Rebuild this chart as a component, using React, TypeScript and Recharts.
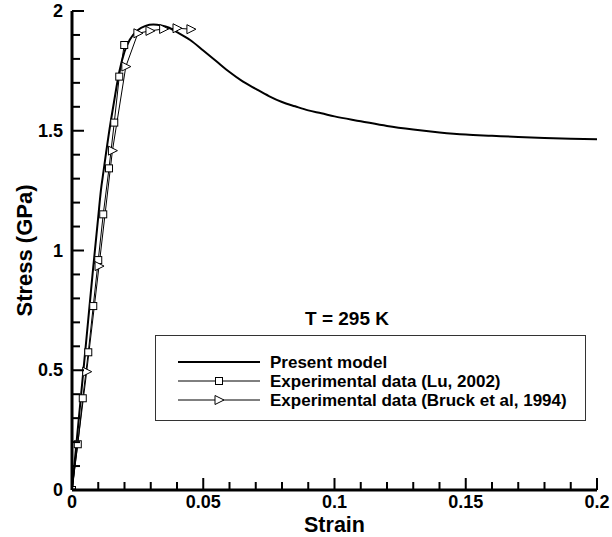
import React from "react";
import { LineChart, Line, XAxis, YAxis } from "recharts";

// present model curve
const modelStrain = [0, 0.002, 0.004, 0.006, 0.008, 0.01, 0.011, 0.012, 0.013, 0.014, 0.016, 0.018, 0.02, 0.022, 0.025, 0.028, 0.031, 0.034, 0.037, 0.04, 0.045, 0.05, 0.055, 0.06, 0.065, 0.07, 0.075, 0.08, 0.085, 0.09, 0.095, 0.1, 0.11, 0.12, 0.13, 0.14, 0.15, 0.16, 0.17, 0.18, 0.19, 0.2];
const modelStress = [0, 0.23, 0.46, 0.69, 0.92, 1.14, 1.25, 1.33, 1.41, 1.485, 1.62, 1.745, 1.83, 1.88, 1.92, 1.938, 1.944, 1.94, 1.93, 1.912, 1.879, 1.835, 1.79, 1.745, 1.706, 1.675, 1.645, 1.62, 1.602, 1.585, 1.573, 1.56, 1.54, 1.52, 1.505, 1.493, 1.484, 1.479, 1.474, 1.47, 1.467, 1.465];

// Lu, 2002
const luStrain = [0, 0.0022, 0.0041, 0.0062, 0.0081, 0.01, 0.0119, 0.0141, 0.0161, 0.018, 0.0199];
const luStress = [0, 0.191, 0.383, 0.575, 0.768, 0.96, 1.151, 1.343, 1.534, 1.726, 1.858];

// Bruck et al, 1994
const bruckStrain = [0, 0.0056, 0.0103, 0.0154, 0.0205, 0.0251, 0.0297, 0.0349, 0.04, 0.0453];
const bruckStress = [0, 0.494, 0.935, 1.417, 1.768, 1.907, 1.917, 1.925, 1.928, 1.924];

const xTicks = [0, 0.01, 0.02, 0.03, 0.04, 0.05, 0.06, 0.07, 0.08, 0.09, 0.1, 0.11, 0.12, 0.13, 0.14, 0.15, 0.16, 0.17, 0.18, 0.19, 0.2];
const xMajor = [0, 0.05, 0.1, 0.15, 0.2];
const yTicks = [0, 0.1, 0.2, 0.3, 0.4, 0.5, 0.6, 0.7, 0.8, 0.9, 1, 1.1, 1.2, 1.3, 1.4, 1.5, 1.6, 1.7, 1.8, 1.9, 2];
const yMajor = [0, 0.5, 1, 1.5, 2];

const seriesNames = ["Present model", "Experimental data (Lu, 2002)", "Experimental data (Bruck et al, 1994)"];

const modelData = modelStrain.map((s, i) => ({ strain: s, stress: modelStress[i] }));
const luData = luStrain.map((s, i) => ({ strain: s, stress: luStress[i] }));
const bruckData = bruckStrain.map((s, i) => ({ strain: s, stress: bruckStress[i] }));

const font = '"Liberation Sans", Arial, Helvetica, sans-serif';
const frame = { stroke: "#000", strokeWidth: 3 };

// ticks point inwards, like the original plot
function XTick(props: any) {
  const { x, y, payload } = props;
  const major = xMajor.includes(payload.value);
  return (
    <g>
      <line x1={x} x2={x} y1={y} y2={y - (major ? 12 : 8)} stroke="#000" strokeWidth={2} />
      {major && (
        <text x={x} y={y + 18} textAnchor="middle" fontFamily={font} fontWeight="bold" fontSize={18} fill="#000">
          {String(payload.value)}
        </text>
      )}
    </g>
  );
}

function YTick(props: any) {
  const { x, y, payload } = props;
  const major = yMajor.includes(payload.value);
  return (
    <g>
      <line x1={x} x2={x + (major ? 12 : 8)} y1={y} y2={y} stroke="#000" strokeWidth={2} />
      {major && (
        <text x={x - 9} y={y + 6} textAnchor="end" fontFamily={font} fontWeight="bold" fontSize={18} fill="#000">
          {String(payload.value)}
        </text>
      )}
    </g>
  );
}

function Square(props: any) {
  const { cx, cy, index } = props;
  return <rect key={"sq" + index} x={cx - 3.5} y={cy - 3.5} width={7} height={7} fill="#fff" stroke="#000" strokeWidth={1} />;
}

function Tri(props: any) {
  const { cx, cy, index } = props;
  return (
    <polygon
      key={"tr" + index}
      points={`${cx - 4},${cy - 4.5} ${cx - 4},${cy + 4.5} ${cx + 5},${cy}`}
      fill="#fff"
      stroke="#000"
      strokeWidth={1}
    />
  );
}

function App() {
  return (
    <div style={{ position: "absolute", left: 0, top: 0, width: 612, height: 537, background: "#fff" }}>
      <LineChart width={612} height={537} margin={{ top: 11, right: 15, bottom: 0, left: 0 }}>
        <XAxis
          type="number"
          dataKey="strain"
          domain={[0, 0.2]}
          ticks={xTicks}
          interval={0}
          tick={<XTick />}
          tickSize={0}
          tickMargin={0}
          tickLine={false}
          axisLine={frame}
          height={47}
          allowDataOverflow
          label={{ value: "Strain", position: "insideBottom", offset: 5, fill: "#000", fontFamily: font, fontWeight: "bold", fontSize: 21.5 }}
        />
        <XAxis xAxisId="top" orientation="top" type="number" dataKey="strain" domain={[0, 0.2]} height={0} tick={false} tickLine={false} axisLine={frame} />
        <YAxis
          type="number"
          dataKey="stress"
          domain={[0, 2]}
          ticks={yTicks}
          interval={0}
          tick={<YTick />}
          tickSize={0}
          tickMargin={0}
          tickLine={false}
          axisLine={frame}
          width={72}
          allowDataOverflow
          label={{
            value: "Stress (GPa)",
            angle: -90,
            position: "insideLeft",
            offset: 24,
            fill: "#000",
            fontFamily: font,
            fontWeight: "bold",
            fontSize: 22,
            style: { textAnchor: "middle" },
          }}
        />
        <YAxis yAxisId="right" orientation="right" type="number" dataKey="stress" domain={[0, 2]} width={0} tick={false} tickLine={false} axisLine={frame} />
        <Line data={modelData} dataKey="stress" type="monotone" stroke="#000" strokeWidth={2} dot={false} isAnimationActive={false} />
        <Line data={luData} dataKey="stress" type="linear" stroke="#000" strokeWidth={1} dot={Square} isAnimationActive={false} />
        <Line data={bruckData} dataKey="stress" type="linear" stroke="#000" strokeWidth={1} dot={Tri} isAnimationActive={false} />
      </LineChart>

      <svg width={612} height={537} style={{ position: "absolute", left: 0, top: 0, pointerEvents: "none" }}>
        <text x={347} y={325} textAnchor="middle" fontFamily={font} fontWeight="bold" fontSize={19} fill="#000">
          T = 295 K
        </text>
        <rect x={155.5} y={335.5} width={430} height={85} fill="#fff" stroke="#333" strokeWidth={1} />
        {seriesNames.map((name, i) => {
          const cy = 362 + i * 19;
          return (
            <g key={name}>
              <line x1={178} x2={260} y1={cy} y2={cy} stroke="#000" strokeWidth={i === 0 ? 2 : 1} />
              {i === 1 && <Square cx={219} cy={cy} index={0} />}
              {i === 2 && <Tri cx={219} cy={cy} index={0} />}
              <text x={270} y={cy + 6} fontFamily={font} fontWeight="bold" fontSize={17} fill="#000">
                {name}
              </text>
            </g>
          );
        })}
      </svg>
    </div>
  );
}

export default App;
